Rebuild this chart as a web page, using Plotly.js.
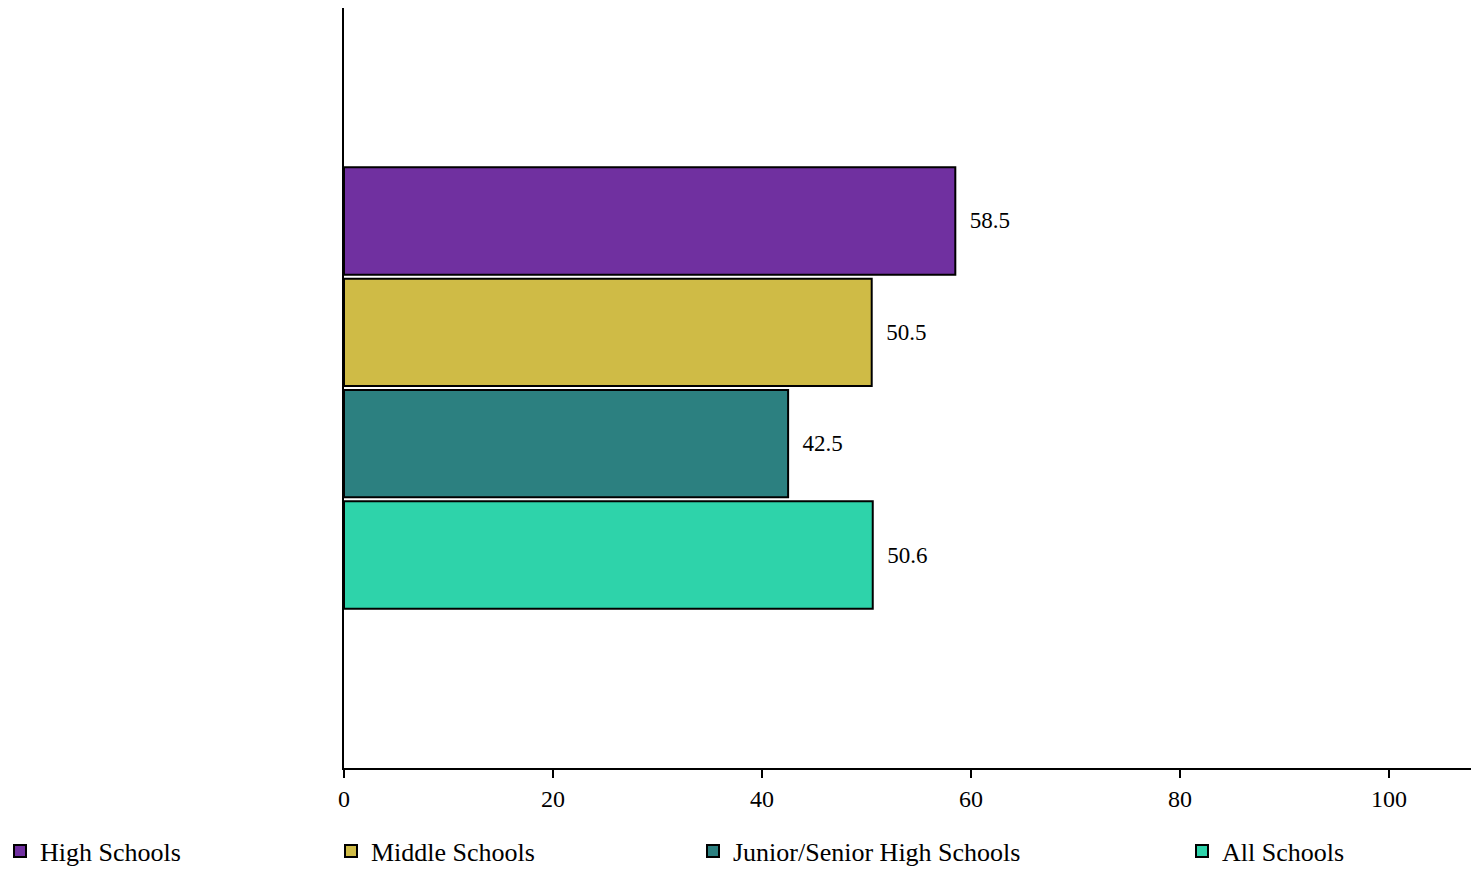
<!DOCTYPE html>
<html>
<head>
<meta charset="utf-8">
<script src="https://cdn.plot.ly/plotly-3.0.1.min.js"></script>
<style>html,body{margin:0;padding:0;background:#fff;}#chart{width:1476px;height:869px;}</style>
</head>
<body>
<div id="chart"></div>
<script>
const categories = ['Schools'];
const seriesNames = ['High Schools', 'Middle Schools', 'Junior/Senior High Schools', 'All Schools'];
const highSchools = [58.5];
const middleSchools = [50.5];
const juniorSeniorHighSchools = [42.5];
const allSchools = [50.6];
const xTickValues = [0, 20, 40, 60, 80, 100];

const seriesValues = [highSchools, middleSchools, juniorSeniorHighSchools, allSchools];
const colors = ['#7030A0', '#CFBB46', '#2C8080', '#2ED3AA'];
const legendIds = ['legend', 'legend2', 'legend3', 'legend4'];
const legendPx = [0, 331, 693, 1182];
const FONT = '"Liberation Serif", "Times New Roman", serif';

const traces = seriesNames.map((name, i) => ({
  type: 'bar',
  orientation: 'h',
  name: name,
  y: categories,
  x: seriesValues[i],
  marker: {color: colors[i], line: {color: '#000', width: 2}},
  text: seriesValues[i].map(v => v.toFixed(1)),
  texttemplate: '\u2002%{text}',
  textposition: 'outside',
  cliponaxis: false,
  textfont: {family: FONT, size: 23, color: '#000'},
  legend: legendIds[i],
  hoverinfo: 'x+name'
}));

const legendBase = {
  orientation: 'h',
  xref: 'container', yref: 'container',
  y: 0.0207, yanchor: 'middle', xanchor: 'left',
  font: {family: FONT, size: 26, color: '#000'},
  bgcolor: 'rgba(0,0,0,0)',
  itemwidth: 30,
  borderwidth: 0
};

const layout = {
  width: 1476, height: 869,
  margin: {l: 344, r: 5, t: 8, b: 101},
  paper_bgcolor: '#fff', plot_bgcolor: '#fff',
  font: {family: FONT, size: 24, color: '#000'},
  barmode: 'group',
  bargap: 0.414,
  bargroupgap: 0.036,
  showlegend: true,
  xaxis: {
    range: [0, 107.85],
    tickvals: xTickValues,
    ticktext: xTickValues.map(String),
    showgrid: false, zeroline: false,
    showline: true, linecolor: '#000', linewidth: 2,
    ticks: 'outside', ticklen: 8, tickwidth: 2, tickcolor: '#000',
    tickfont: {family: FONT, size: 24, color: '#000'}
  },
  yaxis: {
    autorange: 'reversed',
    showticklabels: false,
    showgrid: false, zeroline: false,
    showline: true, linecolor: '#000', linewidth: 2,
    ticks: ''
  }
};
legendIds.forEach((id, i) => {
  layout[id] = Object.assign({}, legendBase, {x: legendPx[i] / 1476});
});

Plotly.newPlot('chart', traces, layout, {displayModeBar: false, staticPlot: true});
</script>
</body>
</html>
